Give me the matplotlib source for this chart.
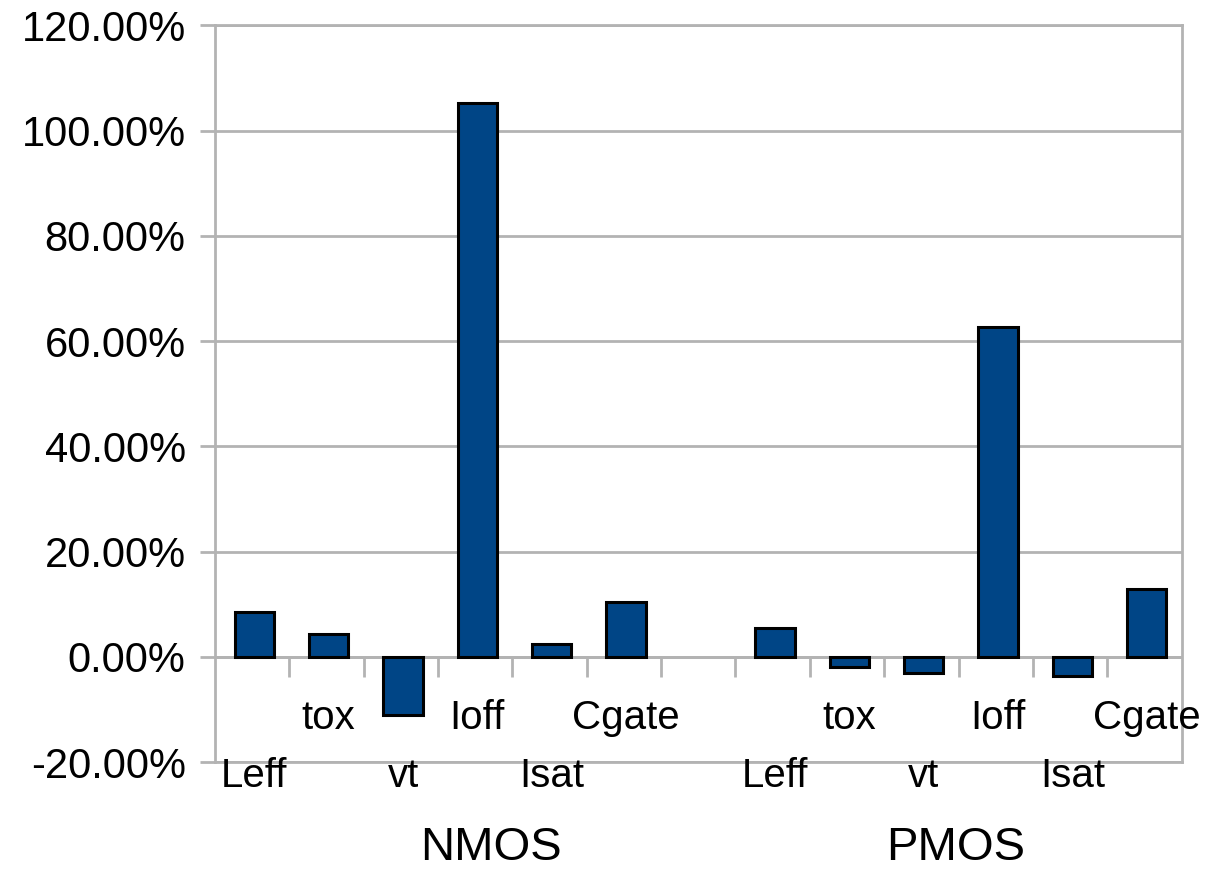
import numpy as np
import matplotlib
matplotlib.use("Agg")
import matplotlib.pyplot as plt
from matplotlib.ticker import FuncFormatter

plt.rcParams['font.family'] = ['Liberation Sans', 'DejaVu Sans']

# Relative change per parameter, NMOS then PMOS (blank slot in between)
groups = ['NMOS', 'PMOS']
params = ['Leff', 'tox', 'vt', 'Ioff', 'Isat', 'Cgate']
nmos_change = [8.5, 4.4, -11.0, 105.2, 2.5, 10.4]
pmos_change = [5.5, -1.9, -3.1, 62.6, -3.7, 12.9]

grid_col = '#b3b3b3'
bar_col = '#004586'

fig = plt.figure(figsize=(12.07, 8.72), dpi=100)
ax = fig.add_axes([0.178, 0.126, 0.801, 0.845])

n_slots = len(params) * 2 + 1
x_nmos = np.arange(len(params)) + 0.03
x_pmos = np.arange(len(params)) + len(params) + 1.03

ax.bar(x_nmos, nmos_change, width=0.53, color=bar_col, edgecolor='black',
       linewidth=2.2, zorder=3)
ax.bar(x_pmos, pmos_change, width=0.53, color=bar_col, edgecolor='black',
       linewidth=2.2, zorder=3)

ax.set_xlim(-0.5, n_slots - 0.5)
ax.set_ylim(-20, 120)
ax.set_yticks(np.arange(-20, 121, 20))
ax.yaxis.set_major_formatter(FuncFormatter(lambda v, p: f'{v:.2f}%'))
ax.tick_params(axis='y', length=11, width=2, color=grid_col, pad=10,
               labelsize=30)
ax.set_xticks([])
ax.grid(axis='y', color=grid_col, linewidth=2, zorder=0)
for s in ax.spines.values():
    s.set_color(grid_col)
    s.set_linewidth(2)

# category axis sits on the zero line, with short ticks between slots
ax.axhline(0, color=grid_col, linewidth=2, zorder=1)
ax.vlines(np.arange(0.5, n_slots - 1, 1.0), -3.8, 0, color=grid_col,
          linewidth=2, zorder=1)

# staggered parameter labels
for xs in (x_nmos, x_pmos):
    for j, (x, name) in enumerate(zip(xs, params)):
        y = -24.7 if j % 2 == 0 else -13.7
        ax.text(x, y, name, ha='center', va='baseline', fontsize=29,
                clip_on=False)

# group labels
ax.text(3.21, -38.6, groups[0], ha='center', va='baseline', fontsize=34,
        clip_on=False)
ax.text(9.46, -38.6, groups[1], ha='center', va='baseline', fontsize=34,
        clip_on=False)

fig.savefig('out.png', dpi=100)
